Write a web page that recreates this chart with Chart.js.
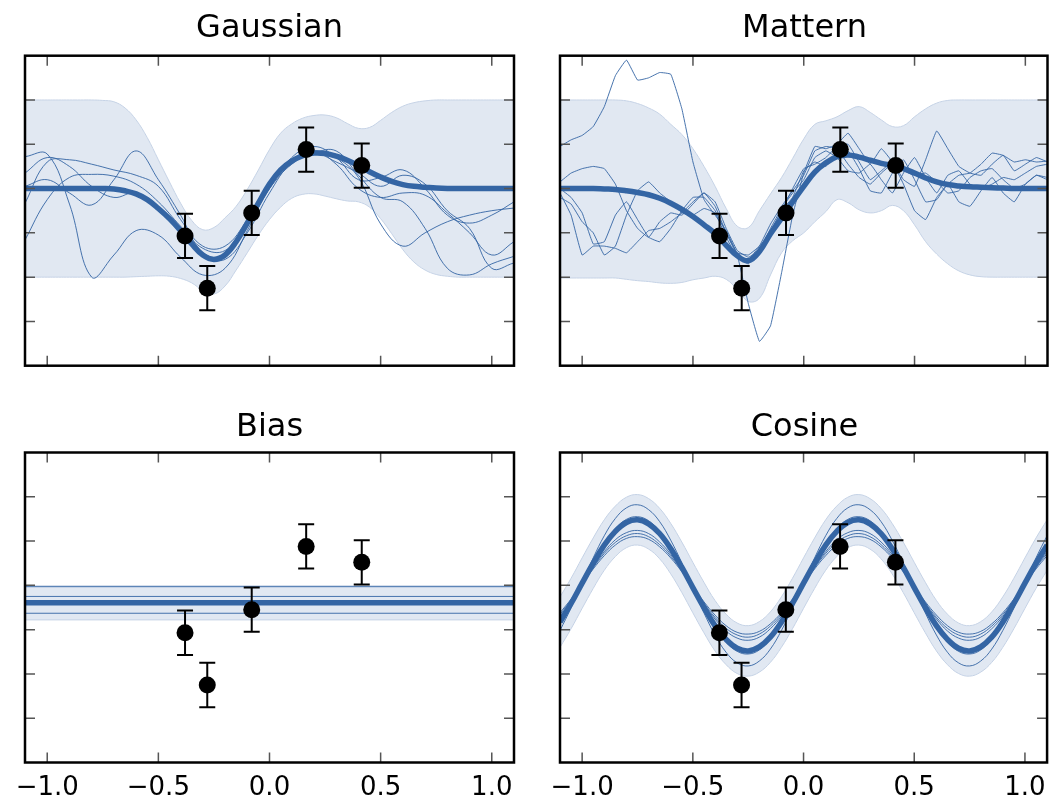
<!DOCTYPE html>
<html><head><meta charset="utf-8">
<script src="https://cdn.jsdelivr.net/npm/chart.js@4/dist/chart.umd.min.js"></script>
<style>
html,body{margin:0;padding:0;background:#fff;}
#wrap{position:relative;width:1056px;height:800px;overflow:hidden;}
canvas{position:absolute;}
</style></head><body>
<div id="wrap">
<canvas id="c0" width="528" height="400" style="left:0;top:0"></canvas>
<canvas id="c1" width="528" height="400" style="left:528px;top:0"></canvas>
<canvas id="c2" width="528" height="400" style="left:0;top:400px"></canvas>
<canvas id="c3" width="528" height="400" style="left:528px;top:400px"></canvas>
</div>
<script>
// ---------- data ----------
const titles = ["Gaussian", "Mattern", "Bias", "Cosine"];
const xTicks = [-1.0, -0.5, 0.0, 0.5, 1.0];
const yTicks = [-3, -2, -1, 0, 1, 2];

const obsX = [-0.38, -0.28, -0.08, 0.165, 0.415];
const obsY = [-1.07, -2.25, -0.55, 0.88, 0.52];
const obsErr = [0.5, 0.5, 0.5, 0.5, 0.5];

const xFine = [-1.1,-1.05,-1.0,-0.95,-0.9,-0.85,-0.8,-0.75,-0.7,-0.65,-0.6,-0.55,-0.5,-0.45,-0.4,-0.35,-0.3,-0.25,-0.2,-0.15,-0.1,-0.05,0.0,0.05,0.1,0.15,0.2,0.25,0.3,0.35,0.4,0.45,0.5,0.55,0.6,0.65,0.7,0.75,0.8,0.85,0.9,0.95,1.0,1.05,1.1];
const xCoarse = [-1.1,-1.0,-0.9,-0.8,-0.7,-0.6,-0.5,-0.4,-0.3,-0.2,-0.1,0.0,0.1,0.2,0.3,0.4,0.5,0.6,0.7,0.8,0.9,1.0,1.1];
const xEnds = [-1.1, 1.1];

// Gaussian (RBF) kernel
const gaussMean = [0,0,0,0,0,0,0,0,-0.01,-0.05,-0.12,-0.25,-0.45,-0.68,-0.95,-1.25,-1.50,-1.60,-1.50,-1.20,-0.78,-0.33,0.10,0.42,0.62,0.74,0.80,0.79,0.73,0.64,0.52,0.38,0.26,0.16,0.09,0.05,0.03,0.01,0,0,0,0,0,0,0];
const gaussUpper = [2,2,2,2,2,2,2,1.99,1.96,1.82,1.55,1.15,0.65,0.15,-0.33,-0.72,-0.93,-0.88,-0.66,-0.40,-0.02,0.42,0.88,1.25,1.46,1.59,1.65,1.66,1.60,1.47,1.36,1.38,1.54,1.72,1.86,1.94,1.98,2,2,2,2,2,2,2,2];
const gaussLower = [-2,-2,-2,-2,-2,-2,-2,-2,-2,-2,-1.99,-1.98,-1.97,-1.98,-2.03,-2.13,-2.30,-2.38,-2.20,-1.84,-1.45,-1.05,-0.70,-0.42,-0.22,-0.13,-0.12,-0.17,-0.23,-0.28,-0.30,-0.42,-0.68,-1.02,-1.38,-1.66,-1.84,-1.94,-1.98,-2,-2,-2,-2,-2,-2];
const gaussS1 = [0.72,0.78,-0.35,-2.0,-1.5,-0.95,-1.05,-1.55,-1.95,-1.8,-0.95,0.05,0.65,0.85,0.7,0.25,-0.8,-1.3,-1.0,-0.75,-0.6,-0.5,-0.44];
const gaussS2 = [-1.16,-0.25,0.25,0.32,0.28,0.1,-0.3,-0.85,-1.35,-1.4,-0.8,0.0,0.55,0.8,0.85,0.3,-0.2,-0.3,-0.9,-1.8,-1.95,-1.7,-1.53];
const gaussS3 = [-0.33,0.6,0.65,0.55,0.42,0.3,0.05,-0.7,-1.3,-1.3,-0.7,0.1,0.6,0.8,0.6,0.35,0.05,0.3,0.1,-0.5,-0.9,-1.8,-1.68];
const gaussS4 = [0.05,0.2,-0.1,-0.37,0.2,0.85,0.2,-0.6,-1.45,-1.5,-0.85,0.0,0.7,0.95,0.7,0.2,0.25,0.42,0.0,-0.6,-0.78,-0.6,-0.3];
const gaussS5 = [0.35,0.7,0.5,0.05,-0.2,-0.1,-0.5,-1.0,-1.5,-1.6,-1.0,-0.1,0.6,0.85,0.55,0.0,-0.2,-0.1,-0.15,-0.55,-1.0,-1.5,-1.2];

// Matern kernel
const matMean = [0,0,0,0,-0.01,-0.02,-0.05,-0.09,-0.14,-0.22,-0.33,-0.47,-0.63,-0.82,-1.02,-1.28,-1.52,-1.63,-1.42,-1.02,-0.67,-0.30,0.05,0.37,0.58,0.72,0.76,0.71,0.64,0.57,0.52,0.45,0.35,0.24,0.15,0.09,0.06,0.04,0.03,0.02,0.01,0,0,0,0];
const matUpper = [2,2,2,2,2,2,1.98,1.92,1.82,1.68,1.45,1.22,0.90,0.50,0.05,-0.45,-0.85,-0.88,-0.50,-0.12,0.25,0.68,1.12,1.45,1.53,1.62,1.76,1.85,1.72,1.55,1.40,1.42,1.62,1.80,1.93,1.99,2,2,2,2,2,2,2,2,2];
const matLower = [-2.02,-2.02,-2.02,-2.02,-2.02,-2.02,-2.05,-2.08,-2.10,-2.13,-2.14,-2.12,-2.06,-2.02,-1.98,-2.05,-2.28,-2.55,-2.48,-1.95,-1.45,-1.18,-1.00,-0.75,-0.52,-0.25,-0.32,-0.48,-0.55,-0.50,-0.38,-0.50,-0.82,-1.20,-1.48,-1.70,-1.86,-1.95,-1.99,-2,-2,-2,-2,-2,-2];
const matS1 = [0.95,1.1,1.2,1.4,1.85,2.55,2.9,2.45,2.5,2.62,2.58,1.8,0.6,-0.25,-0.6,-0.95,-1.5,-2.6,-3.45,-3.1,-1.9,-0.6,0.35,0.95,0.9,1.0,1.25,0.9,0.55,0.9,0.6,0.1,-0.5,-0.7,-0.2,0.1,0.3,0.35,0.55,0.8,0.75,0.6,0.65,0.6,0.62];
const matS2 = [-0.1,-0.6,-1.5,-1.3,-1.3,-1.35,-1.45,-1.2,-0.95,-0.9,-0.75,-0.55,-0.3,-0.1,-0.3,-0.9,-1.4,-1.55,-1.4,-0.9,-0.45,-0.1,0.2,0.7,0.85,0.7,0.4,0.35,0.55,0.2,-0.1,0.35,0.7,0.25,-0.1,0.3,0.4,0.1,0.0,0.1,0.25,0.2,0.35,0.5,0.55];
const matS3 = [0.15,0.35,0.45,0.5,0.45,0.1,-0.5,-0.9,-1.1,-0.75,-0.55,-0.6,-0.35,-0.1,-0.4,-1.0,-1.5,-1.6,-1.3,-0.8,-0.4,-0.05,0.3,0.85,0.95,0.9,0.55,0.25,0.1,0.35,0.55,0.4,0.3,0.35,0.15,-0.1,-0.05,0.25,0.4,0.45,0.2,0.0,0.1,0.3,0.25];
const matS4 = [-0.2,-0.35,-0.75,-1.0,-1.5,-1.3,-0.6,-0.05,0.15,-0.1,-0.3,-0.55,-0.6,-0.45,-0.55,-1.1,-1.55,-1.7,-1.35,-0.95,-0.5,0.0,0.45,0.55,0.7,0.95,1.0,0.6,0.2,0.4,0.6,0.2,0.05,0.65,1.3,0.9,0.5,0.35,0.3,0.55,0.75,0.4,0.55,0.7,0.6];
const matS5 = [0.0,-0.2,-0.55,-1.25,-1.2,-0.6,-0.3,-0.7,-1.1,-1.2,-0.9,-0.5,-0.2,-0.2,-0.5,-1.0,-1.45,-1.5,-1.3,-1.0,-0.5,-0.2,0.4,0.6,0.5,0.8,0.85,0.45,-0.05,-0.1,0.35,0.65,0.2,-0.3,-0.25,0.1,-0.3,-0.4,-0.05,0.25,-0.1,-0.3,0.1,0.3,0.2];

// Bias kernel
const biasMean = [-0.39, -0.39];
const biasUpper = [-0.01, -0.01];
const biasLower = [-0.78, -0.78];
const biasS1 = [-0.03, -0.03];
const biasS2 = [-0.25, -0.25];
const biasS3 = [-0.37, -0.37];
const biasS4 = [-0.42, -0.42];
const biasS5 = [-0.63, -0.63];

// Cosine kernel
const cosMean = [-0.83,-0.41,0.05,0.50,0.91,1.22,1.42,1.48,1.39,1.17,0.83,0.41,-0.05,-0.50,-0.91,-1.22,-1.42,-1.48,-1.39,-1.17,-0.83,-0.41,0.05,0.50,0.91,1.22,1.42,1.48,1.39,1.17,0.83,0.41,-0.05,-0.50,-0.91,-1.22,-1.42,-1.48,-1.39,-1.17,-0.83,-0.41,0.05,0.50,0.91];
const cosUpper = [-0.26,0.16,0.62,1.07,1.48,1.79,1.99,2.05,1.96,1.74,1.40,0.98,0.52,0.07,-0.34,-0.65,-0.85,-0.91,-0.82,-0.60,-0.26,0.16,0.62,1.07,1.48,1.79,1.99,2.05,1.96,1.74,1.40,0.98,0.52,0.07,-0.34,-0.65,-0.85,-0.91,-0.82,-0.60,-0.26,0.16,0.62,1.07,1.48];
const cosLower = [-1.40,-0.98,-0.52,-0.07,0.34,0.65,0.85,0.91,0.82,0.60,0.26,-0.16,-0.62,-1.07,-1.48,-1.79,-1.99,-2.05,-1.96,-1.74,-1.40,-0.98,-0.52,-0.07,0.34,0.65,0.85,0.91,0.82,0.60,0.26,-0.16,-0.62,-1.07,-1.48,-1.79,-1.99,-2.05,-1.96,-1.74,-1.40,-0.98,-0.52,-0.07,0.34];
const cosS1 = [-1.02,-0.51,0.06,0.62,1.12,1.51,1.75,1.82,1.71,1.44,1.02,0.51,-0.06,-0.62,-1.12,-1.51,-1.75,-1.82,-1.71,-1.44,-1.02,-0.51,0.06,0.62,1.12,1.51,1.75,1.82,1.71,1.44,1.02,0.51,-0.06,-0.62,-1.12,-1.51,-1.75,-1.82,-1.71,-1.44,-1.02,-0.51,0.06,0.62,1.12];
const cosS2 = [-0.87,-0.43,0.05,0.53,0.95,1.28,1.49,1.55,1.46,1.22,0.87,0.43,-0.05,-0.53,-0.95,-1.28,-1.49,-1.55,-1.46,-1.22,-0.87,-0.43,0.05,0.53,0.95,1.28,1.49,1.55,1.46,1.22,0.87,0.43,-0.05,-0.53,-0.95,-1.28,-1.49,-1.55,-1.46,-1.22,-0.87,-0.43,0.05,0.53,0.95];
const cosS3 = [-0.70,-0.35,0.04,0.42,0.76,1.03,1.19,1.24,1.17,0.98,0.70,0.35,-0.04,-0.42,-0.76,-1.03,-1.19,-1.24,-1.17,-0.98,-0.70,-0.35,0.04,0.42,0.76,1.03,1.19,1.24,1.17,0.98,0.70,0.35,-0.04,-0.42,-0.76,-1.03,-1.19,-1.24,-1.17,-0.98,-0.70,-0.35,0.04,0.42,0.76];
const cosS4 = [-0.66,-0.33,0.04,0.40,0.72,0.97,1.12,1.17,1.10,0.92,0.66,0.33,-0.04,-0.40,-0.72,-0.97,-1.12,-1.17,-1.10,-0.92,-0.66,-0.33,0.04,0.40,0.72,0.97,1.12,1.17,1.10,0.92,0.66,0.33,-0.04,-0.40,-0.72,-0.97,-1.12,-1.17,-1.10,-0.92,-0.66,-0.33,0.04,0.40,0.72];
const cosS5 = [-0.62,-0.31,0.03,0.37,0.67,0.91,1.06,1.10,1.04,0.87,0.62,0.31,-0.03,-0.37,-0.67,-0.91,-1.06,-1.10,-1.04,-0.87,-0.62,-0.31,0.03,0.37,0.67,0.91,1.06,1.10,1.04,0.87,0.62,0.31,-0.03,-0.37,-0.67,-0.91,-1.06,-1.10,-1.04,-0.87,-0.62,-0.31,0.03,0.37,0.67];

// ---------- styling ----------
const BLUE = '#3465a4';
const SAMPLE = 'rgba(52,101,164,0.9)';
const BAND_FILL = '#e1e8f2';
const BAND_EDGE = '#c6d3e6';

Chart.defaults.font.family = "'DejaVu Sans', sans-serif";
Chart.defaults.color = '#000';

function pts(xs, ys) { return xs.map((x, i) => ({ x: x, y: ys[i] })); }

const framePlugin = {
  id: 'frame',
  afterDatasetsDraw(chart) {
    const ctx = chart.ctx;
    const xs = chart.scales.x, ys = chart.scales.y;
    chart.data.datasets.forEach(ds => {
      if (!ds.errorBars) return;
      ctx.save();
      ctx.strokeStyle = '#000';
      ctx.lineWidth = 2;
      ctx.beginPath();
      ds.data.forEach((p, i) => {
        const px = xs.getPixelForValue(p.x);
        const t = ys.getPixelForValue(p.y + ds.errorBars[i]);
        const b = ys.getPixelForValue(p.y - ds.errorBars[i]);
        ctx.moveTo(px, t); ctx.lineTo(px, b);
        ctx.moveTo(px - 8, t); ctx.lineTo(px + 8, t);
        ctx.moveTo(px - 8, b); ctx.lineTo(px + 8, b);
      });
      ctx.stroke();
      ctx.restore();
    });
  },
  afterDraw(chart) {
    const ctx = chart.ctx, a = chart.chartArea;
    const xs = chart.scales.x, ys = chart.scales.y;
    ctx.save();
    ctx.strokeStyle = '#555';
    ctx.lineWidth = 1.5;
    ctx.beginPath();
    xTicks.forEach(v => {
      const px = xs.getPixelForValue(v);
      ctx.moveTo(px, a.bottom); ctx.lineTo(px, a.bottom - 10);
      ctx.moveTo(px, a.top); ctx.lineTo(px, a.top + 10);
    });
    yTicks.forEach(v => {
      const py = ys.getPixelForValue(v);
      ctx.moveTo(a.left, py); ctx.lineTo(a.left + 10, py);
      ctx.moveTo(a.right, py); ctx.lineTo(a.right - 10, py);
    });
    ctx.stroke();
    ctx.strokeStyle = '#000';
    ctx.lineWidth = 2.5;
    ctx.strokeRect(a.left, a.top, a.right - a.left, a.bottom - a.top);
    ctx.restore();
  }
};

function makePanel(id, title, panel) {
  const tension = panel.tension;
  const ds = [];
  ds.push({ data: pts(panel.x, panel.upper), borderColor: BAND_EDGE, borderWidth: 1, backgroundColor: BAND_FILL, fill: '+1', pointRadius: 0, tension: tension, order: 20 });
  ds.push({ data: pts(panel.x, panel.lower), borderColor: BAND_EDGE, borderWidth: 1, fill: false, pointRadius: 0, tension: tension, order: 19 });
  panel.samples.forEach((s, k) => {
    ds.push({ data: pts(panel.sx, s), borderColor: SAMPLE, borderWidth: 1, fill: false, pointRadius: 0, tension: panel.sampleTension, order: 10 + k });
  });
  ds.push({ data: pts(panel.x, panel.mean), borderColor: BLUE, borderWidth: 5.5, fill: false, pointRadius: 0, tension: tension, order: 3, borderCapStyle: 'butt' });
  ds.push({ data: pts(obsX, obsY), showLine: false, pointRadius: 8.5, pointBackgroundColor: '#000', pointBorderColor: '#000', pointBorderWidth: 0, order: 1, errorBars: obsErr });

  const xScale = {
    type: 'linear', min: -1.1, max: 1.1,
    display: panel.showX,
    grid: { display: false, drawTicks: false },
    border: { display: false },
    afterBuildTicks: s => { s.ticks = xTicks.map(v => ({ value: v })); },
    ticks: {
      autoSkip: false, maxRotation: 0, minRotation: 0, padding: 10, color: '#000',
      font: { family: "'DejaVu Sans', sans-serif", size: 26, weight: 'normal' },
      callback: v => (v < 0 ? '\u2212' : '') + Math.abs(v).toFixed(1)
    },
    afterFit: s => { s.height = panel.axisH; }
  };

  return new Chart(document.getElementById(id), {
    type: 'line',
    data: { datasets: ds },
    options: {
      responsive: false, animation: false, devicePixelRatio: 1, events: [],
      layout: { padding: panel.pad },
      scales: { x: xScale, y: { type: 'linear', min: -4, max: 3, display: false } },
      plugins: {
        legend: { display: false }, tooltip: { enabled: false },
        title: { display: true, text: title, color: '#000', font: { size: 32, weight: 'normal', lineHeight: 1.2 }, padding: panel.titlePad }
      }
    },
    plugins: [framePlugin]
  });
}

const topTitlePad = { top: 9.8, bottom: 7.5 };
const botTitlePad = { top: 8.1, bottom: 6.0 };

makePanel('c0', titles[0], { x: xFine, mean: gaussMean, upper: gaussUpper, lower: gaussLower, sx: xCoarse, samples: [gaussS1, gaussS2, gaussS3, gaussS4, gaussS5], tension: 0.4, sampleTension: 0.4, showX: false, axisH: 0, pad: { left: 25, right: 14, top: 0, bottom: 34.3 }, titlePad: topTitlePad });
makePanel('c1', titles[1], { x: xFine, mean: matMean, upper: matUpper, lower: matLower, sx: xFine, samples: [matS1, matS2, matS3, matS4, matS5], tension: 0.4, sampleTension: 0.1, showX: false, axisH: 0, pad: { left: 32, right: 7, top: 0, bottom: 34.3 }, titlePad: topTitlePad });
makePanel('c2', titles[2], { x: xEnds, mean: biasMean, upper: biasUpper, lower: biasLower, sx: xEnds, samples: [biasS1, biasS2, biasS3, biasS4, biasS5], tension: 0, sampleTension: 0, showX: true, axisH: 37.5, pad: { left: 25, right: 14, top: 0, bottom: 0 }, titlePad: botTitlePad });
makePanel('c3', titles[3], { x: xFine, mean: cosMean, upper: cosUpper, lower: cosLower, sx: xFine, samples: [cosS1, cosS2, cosS3, cosS4, cosS5], tension: 0.4, sampleTension: 0.4, showX: true, axisH: 37.5, pad: { left: 32, right: 7, top: 0, bottom: 0 }, titlePad: botTitlePad });
</script>
</body></html>
